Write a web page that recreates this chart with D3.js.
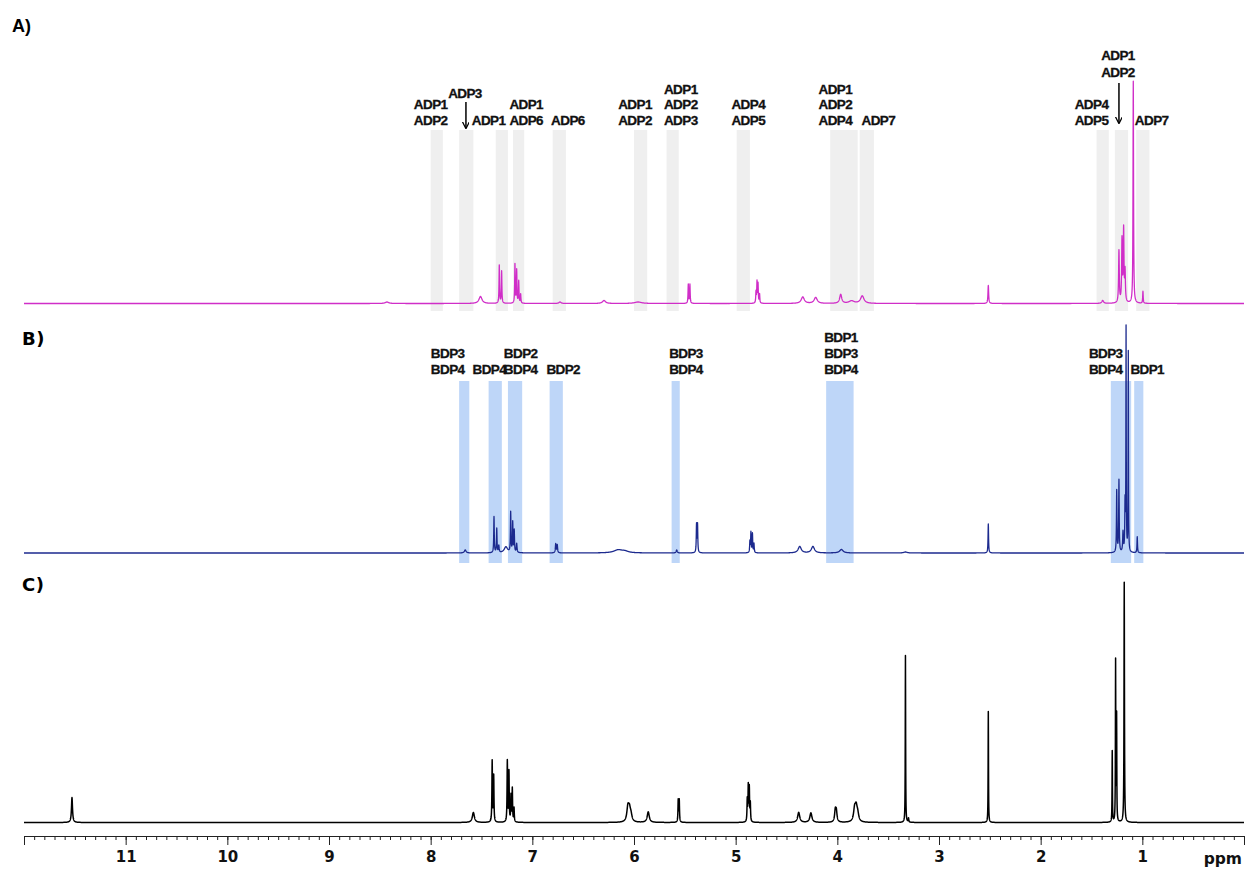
<!DOCTYPE html>
<html>
<head>
<meta charset="utf-8">
<script src="https://cdn.jsdelivr.net/npm/d3@7/dist/d3.min.js"></script>
<style>
  html, body { margin: 0; padding: 0; background: #fff; }
  svg { display: block; }
</style>
</head>
<body>
<svg id="chart" width="1247" height="870"></svg>
<script>
// ---- Axis ----
const ppmDomain = [12, 0];
const majorTicks = [12, 11, 10, 9, 8, 7, 6, 5, 4, 3, 2, 1, 0];
const tickLabels = ["", "11", "10", "9", "8", "7", "6", "5", "4", "3", "2", "1", ""];
const unitLabel = "ppm";

// ---- Peak lists: [chemical shift (ppm), intensity, half width (ppm)] ----
const peaksA = [
  [8.43, 1.5, 0.02],
  [7.51, 7, 0.018],
  [7.325, 38, 0.003], [7.302, 32, 0.003],
  [7.171, 39, 0.003], [7.154, 33, 0.003], [7.134, 22, 0.003], [7.115, 9, 0.003],
  [6.728, 1.5, 0.012],
  [6.295, 3, 0.018],
  [5.96, 1.5, 0.04],
  [5.466, 19, 0.003], [5.45, 19, 0.003],
  [4.80, 11, 0.003], [4.79, 21, 0.003], [4.78, 19, 0.003], [4.765, 9, 0.003],
  [4.34, 6.5, 0.018], [4.213, 6, 0.018],
  [3.967, 9, 0.012], [3.86, 2.5, 0.03], [3.755, 7.5, 0.02],
  [2.515, 18, 0.004],
  [1.39, 3, 0.01],
  [1.23, 52, 0.004], [1.20, 62, 0.004], [1.184, 72, 0.004], [1.17, 30, 0.004],
  [1.089, 222, 0.003],
  [0.994, 12, 0.003]
];
const peaksB = [
  [7.66, 3, 0.01],
  [7.377, 36, 0.003], [7.35, 24, 0.003], [7.33, 7, 0.004],
  [7.26, 6, 0.02],
  [7.213, 40, 0.003], [7.193, 30, 0.003], [7.178, 22, 0.003], [7.154, 9, 0.004],
  [6.77, 9, 0.004], [6.755, 8, 0.004],
  [6.155, 3, 0.05], [6.09, 1.5, 0.04],
  [5.58, 3, 0.006],
  [5.385, 28, 0.003], [5.375, 28, 0.003],
  [4.86, 11, 0.003], [4.85, 20, 0.003], [4.835, 19, 0.003], [4.82, 9, 0.003],
  [4.37, 6.5, 0.018], [4.24, 6.5, 0.018], [3.96, 3.5, 0.02],
  [3.33, 1, 0.02],
  [2.515, 29, 0.003],
  [1.252, 62, 0.003], [1.23, 72, 0.003], [1.19, 20, 0.004], [1.17, 48, 0.003],
  [1.16, 222, 0.002], [1.138, 200, 0.002],
  [1.05, 16, 0.003]
];
const peaksC = [
  [11.528, 25, 0.006],
  [7.58, 10, 0.012],
  [7.395, 61, 0.003], [7.38, 46, 0.003],
  [7.246, 61, 0.003], [7.23, 50, 0.003], [7.21, 26, 0.003], [7.197, 33, 0.003], [7.18, 14, 0.003],
  [6.06, 14, 0.012], [6.045, 11, 0.012], [6.03, 6, 0.012],
  [5.86, 10.5, 0.012],
  [5.565, 22, 0.003], [5.555, 22, 0.003],
  [4.886, 22, 0.003], [4.876, 35, 0.003], [4.866, 33, 0.003], [4.856, 18, 0.003],
  [4.38, 10, 0.012], [4.26, 9.5, 0.012],
  [4.02, 11, 0.008], [4.01, 10, 0.008],
  [3.83, 12, 0.012], [3.815, 13, 0.012], [3.80, 7, 0.012],
  [3.33, 167, 0.002], [3.30, 4, 0.003],
  [2.515, 111, 0.002],
  [1.296, 71, 0.002], [1.263, 160, 0.002], [1.253, 105, 0.002],
  [1.178, 240, 0.0025]
];

// ---- Highlighted regions [from ppm, to ppm] ----
const bandsA = [
  [7.88, 8.00], [7.58, 7.72], [7.24, 7.36], [7.08, 7.19], [6.67, 6.80],
  [5.87, 6.00], [5.56, 5.68], [4.86, 4.99], [3.80, 4.07], [3.64, 3.78],
  [1.33, 1.45], [1.14, 1.27], [0.93, 1.06]
];
const bandsB = [
  [7.62, 7.72], [7.30, 7.43], [7.10, 7.24], [6.70, 6.83], [5.55, 5.63],
  [3.84, 4.11], [1.11, 1.31], [0.99, 1.08]
];

// ---- Assignment labels: [ppm, text lines] ----
const labelsA = [
  [8.00, ["ADP1", "ADP2"]],
  [7.43, ["ADP1"]],
  [7.06, ["ADP1", "ADP6"]],
  [6.65, ["ADP6"]],
  [5.99, ["ADP1", "ADP2"]],
  [5.54, ["ADP1", "ADP2", "ADP3"]],
  [4.876, ["ADP4", "ADP5"]],
  [4.02, ["ADP1", "ADP2", "ADP4"]],
  [3.597, ["ADP7"]],
  [1.50, ["ADP4", "ADP5"]],
  [0.908, ["ADP7"]]
];
const arrowLabelsA = [
  [7.653, ["ADP3"]],
  [1.23, ["ADP1", "ADP2"]]
];
const labelsB = [
  [7.833, ["BDP3", "BDP4"]],
  [7.423, ["BDP4"]],
  [7.115, ["BDP2", "BDP4"]],
  [6.696, ["BDP2"]],
  [5.489, ["BDP3", "BDP4"]],
  [3.964, ["BDP1", "BDP3", "BDP4"]],
  [1.36, ["BDP3", "BDP4"]],
  [0.952, ["BDP1"]]
];
const panelNames = ["A)", "B)", "C)"];

// ---- Drawing ----
const svg = d3.select("#chart");
const x = d3.scaleLinear().domain(ppmDomain).range([24, 1244]);

// Lorentzian sum of a peak list at a given shift
function spectrumAt(peaks, s) {
  let v = 0;
  for (const [c, h, g] of peaks) v += h * g * g / (g * g + (s - c) * (s - c));
  return v;
}
function samples(peaks) {
  const pts = d3.range(0, 12.0005, 0.001).concat(peaks.map(p => p[0]));
  pts.sort((a, b) => b - a);
  return pts.map(s => [s, spectrumAt(peaks, s)]);
}

const panels = [
  { name: panelNames[0], peaks: peaksA, base: 303.5, color: "#d02ec8", width: 1.3,
    bands: bandsA, bandColor: "#efefef", bandTop: 130, bandBottom: 311,
    labels: labelsA, labelBase: 120, lineGap: 15.5,
    nameX: 12, nameY: 32, nameFont: "'Liberation Sans', Arial, sans-serif", nameSize: 18, nameSpacing: 0 },
  { name: panelNames[1], peaks: peaksB, base: 553, color: "#1c2a8e", width: 1.3,
    bands: bandsB, bandColor: "#bed6f8", bandTop: 381, bandBottom: 563,
    labels: labelsB, labelBase: 369, lineGap: 16,
    nameX: 22, nameY: 345, nameFont: "'DejaVu Sans', Verdana, sans-serif", nameSize: 18, nameSpacing: 0.6 },
  { name: panelNames[2], peaks: peaksC, base: 822.5, color: "#000000", width: 1.5,
    bands: [], labels: [],
    nameX: 22, nameY: 591, nameFont: "'DejaVu Sans', Verdana, sans-serif", nameSize: 18, nameSpacing: 0.6 }
];

const labelFont = "'Liberation Sans', Arial, Helvetica, sans-serif";

function styleLabel(sel) {
  return sel
    .attr("font-family", labelFont)
    .attr("font-weight", "bold")
    .attr("font-size", 13.5)
    .attr("letter-spacing", -0.6)
    .attr("text-anchor", "middle")
    .attr("fill", "#111")
    .attr("stroke", "#111")
    .attr("stroke-width", 0.3);
}

panels.forEach(p => {
  const y = d3.scaleLinear().domain([0, 250]).range([p.base, p.base - 250]);
  const g = svg.append("g");

  g.selectAll("rect.band").data(p.bands).join("rect")
    .attr("class", "band")
    .attr("x", d => x(d[1]))
    .attr("width", d => x(d[0]) - x(d[1]))
    .attr("y", p.bandTop)
    .attr("height", p.bandBottom - p.bandTop)
    .attr("fill", p.bandColor);

  const line = d3.line().x(d => x(d[0])).y(d => y(d[1]));
  g.append("path")
    .datum(samples(p.peaks))
    .attr("d", line)
    .attr("fill", "none")
    .attr("stroke", p.color)
    .attr("stroke-width", p.width)
    .attr("stroke-linejoin", "round");

  p.labels.forEach(([ppm, lines]) => {
    const n = lines.length;
    g.append("text")
      .call(styleLabel)
      .attr("x", x(ppm))
      .selectAll("tspan").data(lines).join("tspan")
      .attr("x", x(ppm))
      .attr("y", (d, i) => p.labelBase - (n - 1 - i) * p.lineGap)
      .attr("dominant-baseline", "central")
      .text(d => d);
  });

  svg.append("text")
    .attr("x", p.nameX).attr("y", p.nameY)
    .attr("font-family", p.nameFont)
    .attr("font-weight", "bold")
    .attr("font-size", p.nameSize)
    .attr("letter-spacing", p.nameSpacing)
    .attr("fill", "#000")
    .text(p.name);
});

// Arrowed assignments in panel A
svg.append("defs").append("marker")
  .attr("id", "arrowhead")
  .attr("viewBox", "0 0 10 10")
  .attr("refX", 9).attr("refY", 5)
  .attr("markerWidth", 7).attr("markerHeight", 7)
  .attr("markerUnits", "userSpaceOnUse")
  .attr("orient", "auto")
  .append("path")
  .attr("d", "M0,0 L10,5 L0,10")
  .attr("fill", "none")
  .attr("stroke", "#000")
  .attr("stroke-width", 1.8);

const arrowLayout = [
  { textBottom: 93, from: 102, to: 128 },
  { textBottom: 72, from: 83, to: 123 }
];
arrowLabelsA.forEach(([ppm, lines], i) => {
  const L = arrowLayout[i];
  const n = lines.length;
  svg.append("text")
    .call(styleLabel)
    .selectAll("tspan").data(lines).join("tspan")
    .attr("x", x(ppm) - 1)
    .attr("y", (d, j) => L.textBottom - (n - 1 - j) * 16.5)
    .attr("dominant-baseline", "central")
    .text(d => d);
  svg.append("line")
    .attr("x1", x(ppm)).attr("x2", x(ppm))
    .attr("y1", L.from).attr("y2", L.to)
    .attr("stroke", "#000")
    .attr("stroke-width", 1.5)
    .attr("marker-end", "url(#arrowhead)");
});

// ppm axis
const axisY = 836;
const axisG = svg.append("g").attr("transform", `translate(0,${axisY})`);
axisG.call(
  d3.axisBottom(x)
    .tickValues(d3.range(0, 121).map(i => i / 10))
    .tickSize(4).tickSizeOuter(0)
    .tickFormat("")
);
axisG.call(g => g.select(".domain").remove());
const majorG = svg.append("g").attr("transform", `translate(0,${axisY})`);
majorG.call(
  d3.axisBottom(x)
    .tickValues(majorTicks)
    .tickSize(9).tickSizeOuter(0).tickPadding(6)
    .tickFormat((d, i) => tickLabels[i])
);
majorG.select(".domain").attr("d", `M${x(12)},0.5H${x(0)}`).attr("stroke", "#222");
svg.selectAll(".tick line").attr("stroke", "#222");
majorG.selectAll(".tick text")
  .attr("font-family", "'DejaVu Sans', Verdana, sans-serif")
  .attr("font-weight", "bold")
  .attr("font-size", 15)
  .attr("fill", "#111");
svg.append("text")
  .attr("x", 1242).attr("y", 864)
  .attr("text-anchor", "end")
  .attr("font-family", "'DejaVu Sans', Verdana, sans-serif")
  .attr("font-weight", "bold")
  .attr("font-size", 15.5)
  .attr("fill", "#111")
  .text(unitLabel);
</script>
</body>
</html>
